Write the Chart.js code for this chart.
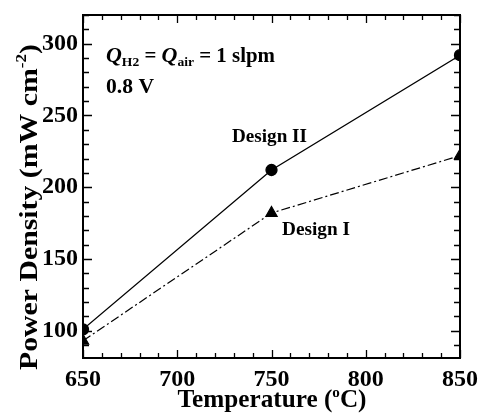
<!DOCTYPE html>
<html>
<head>
<meta charset="utf-8">
<script src="https://cdn.jsdelivr.net/npm/chart.js@4"></script>
<style>
  html, body { margin: 0; padding: 0; background: #fff; }
  #wrap { width: 478px; height: 414px; }
</style>
</head>
<body>
<div id="wrap"><canvas id="powerChart" width="478" height="414"></canvas></div>
<script>
const temperatures = [650, 750, 850];
const designII = [101, 212, 292];
const designI = [93, 182, 222];
const xTicks = [650, 700, 750, 800, 850];
const yTicks = [100, 150, 200, 250, 300];

const SERIF = '"Liberation Serif", "Times New Roman", serif';

// draws a run of text pieces (font / vertical shift each) starting at x,
// optionally squeezed to a target width
function drawPieces(c, pieces, x, y, align, width) {
    let total = 0;
    pieces.forEach(p => { c.font = p.font; total += c.measureText(p.text).width; });
    const sx = width ? width / total : 1;
    c.save();
    c.translate(align === 'center' ? x - total * sx / 2 : x, y);
    c.scale(sx, 1);
    c.textAlign = 'left';
    c.textBaseline = 'alphabetic';
    let cx = 0;
    pieces.forEach(p => {
        c.font = p.font;
        c.fillText(p.text, cx, p.dy || 0);
        cx += c.measureText(p.text).width;
    });
    c.restore();
}

const frameTicks = {
    id: 'frameTicks',
    afterDatasetsDraw(chart) {
        const c = chart.ctx;
        const a = chart.chartArea;
        const xs = chart.scales.x, ys = chart.scales.y;
        c.save();
        c.strokeStyle = '#000';
        c.lineWidth = 2;
        c.strokeRect(a.left, a.top, a.right - a.left, a.bottom - a.top);
        c.lineWidth = 1.3;
        c.beginPath();
        for (let v = 650; v <= 850; v += 10) {
            const px = Math.round(xs.getPixelForValue(v)) + 0.5;
            const len = v % 50 === 0 ? 8 : 5;
            c.moveTo(px, a.bottom); c.lineTo(px, a.bottom - len);
            c.moveTo(px, a.top); c.lineTo(px, a.top + len);
        }
        for (let v = 90; v <= 320; v += 10) {
            const py = Math.round(ys.getPixelForValue(v)) + 0.5;
            if (py < a.top || py > a.bottom) continue;
            const len = v % 50 === 0 ? 9 : 6;
            c.moveTo(a.left, py); c.lineTo(a.left + len, py);
            c.moveTo(a.right, py); c.lineTo(a.right - len, py);
        }
        c.stroke();

        c.fillStyle = '#000';
        const b = 'bold 20px ' + SERIF;
        const bi = 'italic bold 21px ' + SERIF;
        const sub = 'bold 13px ' + SERIF;
        drawPieces(c, [
            { text: 'Q', font: bi }, { text: 'H2', font: sub, dy: 4 },
            { text: ' = ', font: b },
            { text: 'Q', font: bi }, { text: 'air', font: sub, dy: 4 },
            { text: ' = 1 slpm', font: b }
        ], 106, 62, 'left', 169);
        drawPieces(c, [{ text: '0.8 V', font: b }], 106, 93, 'left', 48);
        const d = 'bold 19px ' + SERIF;
        drawPieces(c, [{ text: 'Design II', font: d }], 232, 142, 'left', 75);
        drawPieces(c, [{ text: 'Design I', font: d }], 282, 235, 'left', 68);

        // axis titles
        drawPieces(c, [
            { text: 'Temperature (', font: 'bold 25px ' + SERIF },
            { text: 'o', font: 'bold 15px ' + SERIF, dy: -10 },
            { text: 'C)', font: 'bold 25px ' + SERIF }
        ], 272, 407, 'center', 189);
        c.translate(37, 207);
        c.rotate(-Math.PI / 2);
        drawPieces(c, [
            { text: 'Power Density (mW cm', font: 'bold 26px ' + SERIF },
            { text: '-2', font: 'bold 15px ' + SERIF, dy: -11 },
            { text: ')', font: 'bold 26px ' + SERIF }
        ], 0, 0, 'center', 326);
        c.restore();
    }
};

new Chart(document.getElementById('powerChart'), {
    type: 'line',
    data: {
        datasets: [
            {
                label: 'Design II',
                data: temperatures.map((t, i) => ({ x: t, y: designII[i] })),
                borderColor: '#000', backgroundColor: '#000', borderWidth: 1.3,
                pointStyle: 'circle', pointRadius: 5.5, tension: 0
            },
            {
                label: 'Design I',
                data: temperatures.map((t, i) => ({ x: t, y: designI[i] })),
                borderColor: '#000', backgroundColor: '#000', borderWidth: 1.2,
                borderDash: [9, 3, 2, 3],
                pointStyle: 'triangle', pointRadius: 6.5, tension: 0
            }
        ]
    },
    options: {
        responsive: false, animation: false,
        layout: { padding: { left: 0, top: 15, right: 18, bottom: 0 } },
        plugins: { legend: { display: false }, tooltip: { enabled: false } },
        scales: {
            x: {
                type: 'linear', min: 650, max: 850,
                afterFit: s => { s.height = 56; s.paddingLeft = 0; s.paddingRight = 0; },
                afterBuildTicks: s => { s.ticks = xTicks.map(v => ({ value: v })); },
                grid: { display: false, drawTicks: false },
                border: { display: false },
                ticks: { color: '#000', padding: 7, maxRotation: 0, font: { family: SERIF, size: 24, weight: 'bold' } }
            },
            y: {
                min: 81, max: 320,
                afterFit: s => { s.width = 83; s.paddingTop = 0; s.paddingBottom = 0; },
                afterBuildTicks: s => { s.ticks = yTicks.map(v => ({ value: v })); },
                grid: { display: false, drawTicks: false },
                border: { display: false },
                ticks: { color: '#000', padding: 5, font: { family: SERIF, size: 24, weight: 'bold' } }
            }
        }
    },
    plugins: [frameTicks]
});
</script>
</body>
</html>
